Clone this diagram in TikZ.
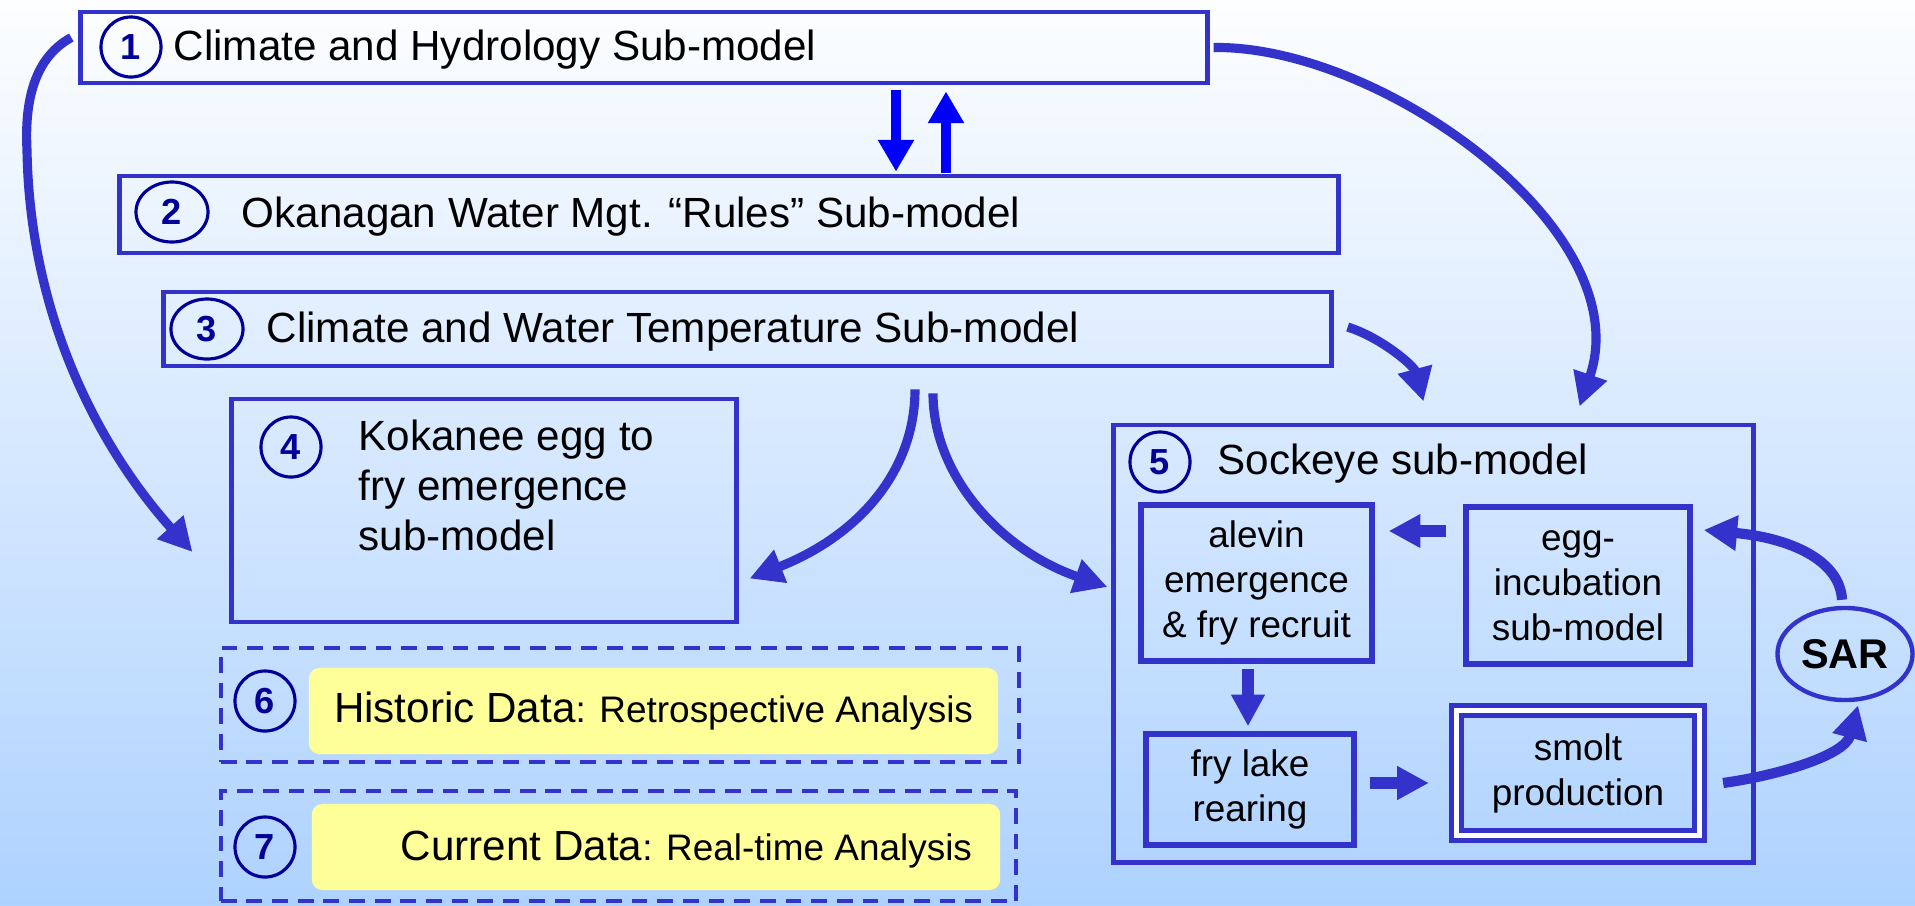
\documentclass[tikz,border=0pt]{standalone}
\usepackage{fontspec}
\setmainfont{Liberation Sans}
\usetikzlibrary{arrows.meta,positioning,shapes.geometric}

\definecolor{boxblue}{RGB}{51,51,204}
\definecolor{numblue}{RGB}{0,0,153}
\definecolor{pureblue}{RGB}{0,0,255}
\definecolor{datayellow}{RGB}{255,255,153}
\definecolor{bgtop}{RGB}{253,254,255}
\definecolor{bgbot}{RGB}{174,210,255}

\tikzset{
	model/.style={draw=boxblue, line width=1.35pt, inner sep=0pt},
	subbox/.style={draw=boxblue, line width=1.5pt, inner sep=0pt, align=center,
		font=\fontsize{10.5}{12.8}\selectfont},
	num/.style={ellipse, draw=numblue, line width=0.9pt, text=numblue, inner sep=0pt,
		minimum width=0.6cm, minimum height=0.6cm, font=\fontsize{10.3}{12}\selectfont\bfseries},
	title/.style={inner sep=0pt, font=\fontsize{12}{14.2}\selectfont},
	datarun/.style={draw=boxblue, line width=1.25pt, dash pattern=on 4.5pt off 2.8pt, inner sep=0pt},
	datanote/.style={fill=datayellow, rounded corners=3pt, inner sep=0pt,
		font=\fontsize{10.5}{12}\selectfont},
	flow/.style={draw=boxblue, line width=2.6pt, -{Triangle[length=9.5pt,width=9.5pt]}},
	stub/.style={draw=boxblue, line width=3.2pt, -{Triangle[length=9pt,width=9pt]}},
	swap/.style={draw=pureblue, line width=2.9pt, -{Triangle[length=9pt,width=9.7pt]}}
}

\begin{document}
\begin{tikzpicture}[x=0.01cm, y=-0.01cm]
	\useasboundingbox (0,0) rectangle (1915,905);
	\shade[top color=bgtop, bottom color=bgbot] (0,0) rectangle (1915,905);

	% the three stacked sub-models
	\node[model, minimum width=11.26cm, minimum height=0.71cm] (h1) at (644,47.5) {};
	\node[num] (n1) at (131,47) {1};
	\node[title, anchor=base west] (t1) at (173,60) {Climate and Hydrology Sub-model};

	\node[model, minimum width=12.18cm, minimum height=0.77cm] (h2) at (729,214.5) {};
	\node[num, minimum width=0.72cm] (n2) at (172,212) {2};
	\node[title, anchor=base west] (t2) at (241,227) {Okanagan Water Mgt. “Rules” Sub-model};

	\node[model, minimum width=11.67cm, minimum height=0.74cm] (h3) at (747.5,329) {};
	\node[num, minimum width=0.72cm] (n3) at (207,329) {3};
	\node[title, anchor=base west] (t3) at (266,342) {Climate and Water Temperature Sub-model};

	% kokanee
	\node[model, minimum width=5.04cm, minimum height=2.23cm] (h4) at (484,510.5) {};
	\node[num] (n4) at (291,447) {4};
	\node[title, anchor=north west, align=left] (t4) at (358,419)
		{Kokanee egg to\\fry emergence\\sub-model};

	% data runs
	\node[datarun, minimum width=7.98cm, minimum height=1.14cm] (d6) at (620,705) {};
	\node[num] (n6) at (265,701) {6};
	\node[datanote, minimum width=6.89cm, minimum height=0.86cm] (y6) at (653.5,711)
		{{\fontsize{12}{14}\selectfont Historic Data}: Retrospective Analysis};

	\node[datarun, minimum width=7.95cm, minimum height=1.10cm] (d7) at (618.5,846) {};
	\node[num] (n7) at (265,847) {7};
	\node[datanote, minimum width=6.88cm, minimum height=0.86cm] (y7) at (656,847) {};
	\node[datanote, fill=none, anchor=base west] (t7) at (400,860)
		{{\fontsize{12}{14}\selectfont Current Data}: Real-time Analysis};

	% sockeye
	\node[model, minimum width=6.39cm, minimum height=4.37cm] (h5) at (1433.5,643.5) {};
	\node[num] (n5) at (1160,462) {5};
	\node[title, anchor=base west] (t5) at (1217,474) {Sockeye sub-model};

	\node[subbox, minimum width=2.31cm, minimum height=1.56cm] (s1) at (1256.5,583)
		{alevin\\emergence\\\& fry recruit};
	\node[subbox, minimum width=2.24cm, minimum height=1.57cm] (s2) at (1578,585.5)
		{egg-\\incubation\\sub-model};
	\node[subbox, minimum width=2.08cm, minimum height=1.11cm] (s3) at (1250,789.5)
		{fry lake\\rearing};
	\node[subbox, double=white, double distance=1.4pt, line width=1.45pt,
		minimum width=2.43cm, minimum height=1.25cm] (s4) at (1578,773)
		{smolt\\production};
	\node[ellipse, draw=boxblue, line width=1.25pt, inner sep=0pt,
		minimum width=1.35cm, minimum height=0.92cm,
		font=\fontsize{11.8}{13}\selectfont\bfseries] (sar) at (1845,654) {SAR};

	% connectors
	\draw[swap] ([shift={(252,5)}]h1.south) -- ([shift={(167,-2)}]h2.north);
	\draw[swap] ([shift={(217,-1)}]h2.north) -- ([shift={(302,6)}]h1.south);

	\draw[flow] ([shift={(4,0)}]h1.east) .. controls (1380,45) and (1640,230) .. ([shift={(146,-16)}]h5.north);
	\draw[flow] ([shift={(14,-2)}]h3.east) .. controls (1382,338) and (1414,366) .. ([shift={(-10,-21)}]h5.north);
	\draw[flow] ([shift={(-7,-10)}]h1.west) .. controls (30,60) and (25,110) .. (27,150)
		.. controls (30,330) and (110,460) .. ([shift={(-37,41.5)}]h4.west);
	\draw[flow] ([shift={(167.5,21)}]h3.south) .. controls (915,470) and (860,535) .. ([shift={(11,68)}]h4.east);
	\draw[flow] ([shift={(185.5,25)}]h3.south) .. controls (933,475) and (1000,550) .. ([shift={(-4,-56.5)}]h5.west);

	\draw[stub] ([shift={(-17,-54.5)}]s2.west) -- ([shift={(14,-52)}]s1.east);
	\draw[stub] ([shift={(-8.5,5)}]s1.south) -- ([shift={(-2,-5)}]s3.north);
	\draw[stub] ([shift={(13,-6.5)}]s3.east) -- ([shift={(-25,10)}]s4.west);
	\draw[flow, line width=2.9pt] ([shift={(21,10)}]s4.east) .. controls (1780,775) and (1845,755) .. ([shift={(13,3)}]sar.south);
	\draw[flow, line width=2.9pt] ([shift={(-3,-6)}]sar.north) .. controls (1840,560) and (1790,538) .. ([shift={(11,-55.5)}]s2.east);
\end{tikzpicture}
\end{document}
